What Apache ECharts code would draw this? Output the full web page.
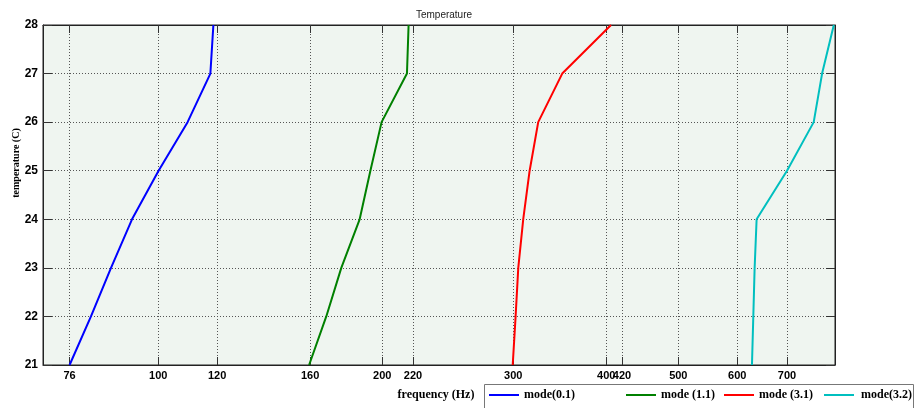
<!DOCTYPE html>
<html><head><meta charset="utf-8">
<script src="https://cdn.jsdelivr.net/npm/echarts@6/dist/echarts.min.js"></script>
<style>html,body{margin:0;padding:0;background:#fff}#c{width:918px;height:408px}</style>
</head><body><div id="c"></div>
<script>
// ---- data ----
const temperatures = [21, 22, 23, 24, 25, 26, 27, 28];
const mode01 = [76, 81.2, 86.4, 92.2, 100.1, 109.5, 117.5, 118.6];
const mode11 = [159.5, 168.2, 176.2, 186.5, 192.8, 199.6, 215.9, 217.0];
const mode31 = [299.5, 302.2, 304.7, 309.4, 315.6, 324.1, 349.1, 406.0];
const mode32 = [628.0, 630.6, 633.2, 637.1, 699.9, 760.2, 780.2, 809.0];
const seriesNames = ['mode(0.1)', 'mode (1.1)', 'mode (3.1)', 'mode(3.2)'];
const xTickValues = [76, 100, 120, 160, 200, 220, 300, 400, 420, 500, 600, 700];
const yTickValues = [21, 22, 23, 24, 25, 26, 27, 28];

// ---- chart ----
const chart = echarts.init(document.getElementById('c'), null, {renderer: 'canvas'});
const allSeries = [mode01, mode11, mode31, mode32];
const colors = ['#0000ff', '#008000', '#ff0000', '#00bfbf'];
const sansBold = {fontFamily: 'Liberation Sans, Arial, sans-serif', fontWeight: 'bold', fontSize: 11, color: '#000'};
const serifBold = {fontFamily: 'Liberation Serif, Times New Roman, serif', fontWeight: 'bold', fontSize: 12, color: '#000'};
const legendLefts = [489, 626, 724, 824];

const option = {
  animation: false,
  backgroundColor: '#fff',
  title: {
    text: 'Temperature', left: 439, top: 5, textAlign: 'center',
    textStyle: {fontFamily: 'Liberation Sans, Arial, sans-serif', fontWeight: 'normal', fontSize: 10, color: '#222'}
  },
  graphic: [{
    type: 'rect', left: 484, top: 384, z: 0,
    shape: {width: 429, height: 26},
    style: {fill: '#fff', stroke: '#777', lineWidth: 1}
  }],
  legend: seriesNames.map((n, i) => ({
    data: [n], left: legendLefts[i], top: 389, padding: 0,
    icon: 'rect', itemWidth: 30, itemHeight: 2, z: 5,
    textStyle: Object.assign({padding: [0, 0, 0, i === 3 ? 2 : 0]}, serifBold)
  })),
  grid: {
    left: 43, right: 83, top: 25, bottom: 43,
    show: true, backgroundColor: '#eff5f0', borderColor: '#222', borderWidth: 1,
    containLabel: false, outerBoundsMode: 'none'
  },
  xAxis: [{
    type: 'log', logBase: 10, min: 70, max: 812, position: 'bottom',
    axisLine: {show: true, onZero: false, lineStyle: {color: '#222', width: 1}},
    axisTick: {show: true, inside: true, length: 8, customValues: xTickValues, lineStyle: {color: '#333'}},
    minorTick: {show: false},
    axisLabel: Object.assign({customValues: xTickValues, margin: 5, hideOverlap: false,
      formatter: v => String(Math.round(v))}, sansBold),
    splitLine: {show: true, lineStyle: {type: [1, 2], color: '#555', width: 1}},
    minorSplitLine: {show: false},
    name: 'frequency (Hz)', nameLocation: 'middle', nameGap: 24,
    nameTextStyle: Object.assign({padding: [0, 6, 0, 0]}, serifBold)
  }, {
    type: 'log', logBase: 10, min: 70, max: 812, position: 'top',
    axisLine: {show: true, onZero: false, lineStyle: {color: '#222', width: 1}},
    axisTick: {show: true, inside: true, length: 8, customValues: xTickValues, lineStyle: {color: '#333'}},
    axisLabel: {show: false},
    splitLine: {show: false}
  }],
  yAxis: [{
    type: 'value', min: 21, max: 28, interval: 1, position: 'left',
    axisLine: {show: true, onZero: false, lineStyle: {color: '#222', width: 1}},
    axisTick: {show: true, inside: true, length: 9, customValues: yTickValues, lineStyle: {color: '#333'}},
    axisLabel: Object.assign({margin: 5}, sansBold, {fontSize: 12}),
    splitLine: {show: true, lineStyle: {type: [1, 2], color: '#555', width: 1}},
    name: 'temperature (C)', nameLocation: 'middle', nameGap: 22, nameRotate: 90,
    nameMoveOverlap: false,
    nameTextStyle: Object.assign({}, serifBold, {fontSize: 10, padding: [0, 0, 0, 64]})
  }, {
    type: 'value', min: 21, max: 28, interval: 1, position: 'right',
    axisLine: {show: true, onZero: false, lineStyle: {color: '#222', width: 1}},
    axisTick: {show: true, inside: true, length: 9, lineStyle: {color: '#333'}},
    axisLabel: {show: false},
    splitLine: {show: false}
  }],
  series: allSeries.map((vals, i) => ({
    name: seriesNames[i], type: 'line', xAxisIndex: 0, yAxisIndex: 0,
    symbol: 'none', color: colors[i],
    lineStyle: {width: 2, color: colors[i]},
    data: temperatures.map((t, k) => [vals[k], t])
  }))
};
chart.setOption(option);
</script>
</body></html>
